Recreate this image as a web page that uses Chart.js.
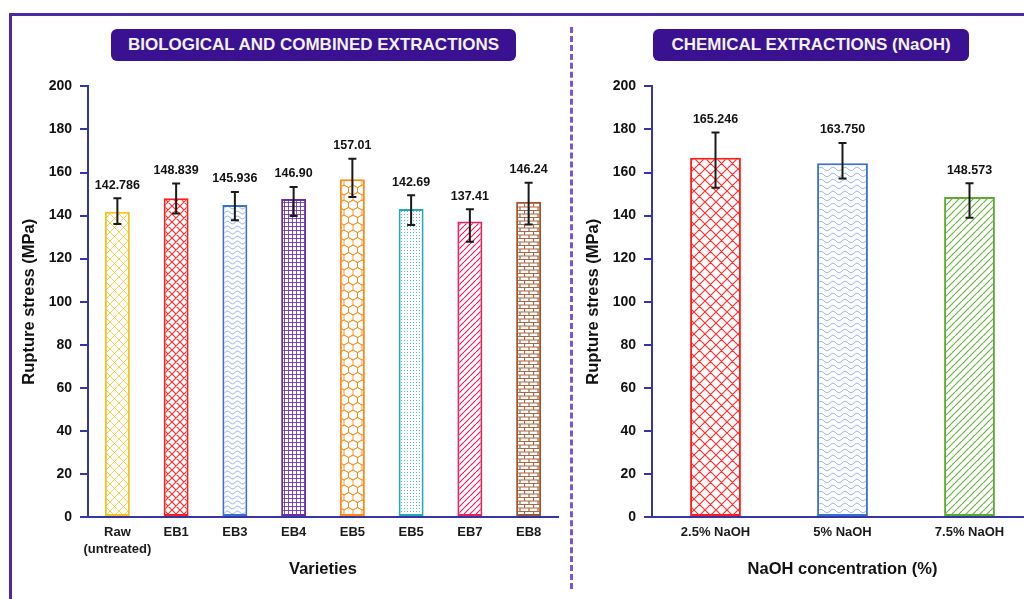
<!DOCTYPE html>
<html lang="en">
<head>
    <meta charset="UTF-8">
    <title>Rupture stress</title>
    <style>
        body {
    margin: 0;
    width: 1024px;
    height: 599px;
    overflow: hidden;
    position: relative;
    background: #fff;
    font-family: 'Liberation Sans', Arial, sans-serif;
}

/* outer frame, only top and left edges are visible */
.frame {
    position: absolute;
    left: 9px;
    top: 13px;
    width: 1100px;
    height: 700px;
    border: 3px solid #4a2a9e;
}

.divider {
    position: absolute;
    left: 570px;
    top: 27px;
    height: 562px;
    border-left: 3px dashed #7b55d6;
}

.panel-title {
    position: absolute;
    top: 29px;
    height: 32px;
    line-height: 32px;
    background: #3a1190;
    color: #f2f2f2;
    border-radius: 6px;
    text-align: center;
    font-weight: bold;
    font-size: 17px;
}

canvas {
    position: absolute;
    top: 70px;
}
    </style>
    <script src="https://cdn.jsdelivr.net/npm/chart.js"></script>
</head>
<body>
    <div class="frame"></div>
    <div class="divider"></div>
    <div class="panel-title" style="left:111px;width:405px;">BIOLOGICAL AND COMBINED EXTRACTIONS</div>
    <div class="panel-title" style="left:653px;width:316px;">CHEMICAL EXTRACTIONS (NaOH)</div>

    <canvas id="bioChart" width="545" height="520" style="left:20px;"></canvas>
    <canvas id="chemChart" width="456" height="520" style="left:584px;"></canvas>

    <script>
// data
const bioCategories = [['Raw', '(untreated)'], 'EB1', 'EB3', 'EB4', 'EB5', 'EB5', 'EB7', 'EB8'];
const bioValues = [141.8, 148.0, 144.9, 147.7, 156.9, 143.0, 137.2, 146.4];
const bioErrLow = [136.1, 141.0, 137.8, 139.8, 148.6, 135.6, 127.9, 135.9];
const bioErrHigh = [148.0, 154.9, 151.0, 153.3, 166.4, 149.5, 142.9, 155.2];
const bioLabels = ['142.786', '148.839', '145.936', '146.90', '157.01', '142.69', '137.41', '146.24'];

const chemCategories = ['2.5% NaOH', '5% NaOH', '7.5% NaOH'];
const chemValues = [166.9, 164.3, 148.6];
const chemErrLow = [152.9, 157.2, 139.0];
const chemErrHigh = [178.6, 173.7, 155.0];
const chemLabels = ['165.246', '163.750', '148.573'];

const yMin = 0;
const yMax = 200;
const yStep = 20;

const FONT = "'Liberation Sans', Arial, sans-serif";
const AXIS_COLOR = '#3535a6';

Chart.defaults.font.family = FONT;
Chart.defaults.color = '#111';

// ---- hatch patterns ----
function makeTile(w, h, draw) {
    const c = document.createElement('canvas');
    c.width = w;
    c.height = h;
    const g = c.getContext('2d');
    g.fillStyle = '#fff';
    g.fillRect(0, 0, w, h);
    draw(g, w, h);
    return g.createPattern(c, 'repeat');
}

function crossHatch(color, s, lw) {
    return makeTile(s, s, (g) => {
        g.strokeStyle = color;
        g.lineWidth = lw;
        g.beginPath();
        for (let o = -s; o <= s; o += s) {
            g.moveTo(o, 0); g.lineTo(o + s, s);
            g.moveTo(o + s, 0); g.lineTo(o, s);
        }
        g.stroke();
    });
}

function diagonal(color, s, lw) {
    return makeTile(s, s, (g) => {
        g.strokeStyle = color;
        g.lineWidth = lw;
        g.beginPath();
        for (let o = -s; o <= s; o += s) {
            g.moveTo(o, s); g.lineTo(o + s, 0);
        }
        g.stroke();
    });
}

function waves(color, w, h, lw) {
    return makeTile(w, h, (g) => {
        g.strokeStyle = color;
        g.lineWidth = lw;
        g.beginPath();
        for (let x = 0; x <= w; x += 0.5) {
            const y = h / 2 + (h * 0.28) * Math.sin(2 * Math.PI * x / w);
            if (x === 0) g.moveTo(x, y); else g.lineTo(x, y);
        }
        g.stroke();
    });
}

function grid(color, s, lw) {
    return makeTile(s, s, (g) => {
        g.strokeStyle = color;
        g.lineWidth = lw;
        g.beginPath();
        g.moveTo(0.5, 0); g.lineTo(0.5, s);
        g.moveTo(0, 0.5); g.lineTo(s, 0.5);
        g.stroke();
    });
}

function dots(color, s) {
    return makeTile(s, s, (g) => {
        g.fillStyle = color;
        g.fillRect(0, 0, 1, 1);
    });
}

function bricks(color, w, h) {
    return makeTile(w, h, (g) => {
        g.strokeStyle = color;
        g.lineWidth = 1.2;
        g.beginPath();
        g.moveTo(0, 0.5); g.lineTo(w, 0.5);
        g.moveTo(0, h / 2 + 0.5); g.lineTo(w, h / 2 + 0.5);
        g.moveTo(0.5, 0); g.lineTo(0.5, h / 2);
        g.moveTo(w / 2 + 0.5, h / 2); g.lineTo(w / 2 + 0.5, h);
        g.stroke();
    });
}

function honeycomb(color) {
    const w = 9, r = 5, h = 15;
    return makeTile(w, h, (g) => {
        g.strokeStyle = color;
        g.lineWidth = 1;
        const centers = [[0, 0], [w, 0], [0, h], [w, h], [w / 2, h / 2]];
        centers.forEach(([cx, cy]) => {
            g.beginPath();
            g.moveTo(cx, cy - r);
            g.lineTo(cx + w / 2, cy - r / 2);
            g.lineTo(cx + w / 2, cy + r / 2);
            g.lineTo(cx, cy + r);
            g.lineTo(cx - w / 2, cy + r / 2);
            g.lineTo(cx - w / 2, cy - r / 2);
            g.closePath();
            g.stroke();
        });
    });
}

const bioBorders = ['#f5c21b', '#ff1c1c', '#3a6fd4', '#6a2ea8', '#ff8a17', '#2ba6b6', '#e8205c', '#a2552b'];
const bioFills = [
    crossHatch('rgba(245,194,27,0.75)', 9, 1),
    crossHatch('#ff3030', 8, 1.2),
    waves('rgba(58,111,212,0.7)', 10, 5, 0.8),
    grid('rgba(106,46,168,0.85)', 4, 1),
    honeycomb('rgba(255,138,23,0.85)'),
    dots('rgba(43,166,182,0.8)', 3),
    diagonal('#e8205c', 6, 1.2),
    bricks('rgba(162,85,43,0.9)', 9, 7)
];

const chemBorders = ['#ff1c1c', '#3a6fd4', '#5aab2e'];
const chemFills = [
    crossHatch('#ff3030', 11, 1.2),
    waves('rgba(58,111,212,0.7)', 12, 6, 0.8),
    diagonal('rgba(90,171,46,0.9)', 7, 1.2)
];

// error bars and value labels, placed through the chart scales
const errorBarPlugin = {
    id: 'errorBars',
    afterDatasetsDraw(chart, args, opts) {
        const { ctx, scales: { x, y } } = chart;
        ctx.save();
        ctx.strokeStyle = '#1a1a1a';
        ctx.lineWidth = 2;
        opts.low.forEach((lo, i) => {
            const px = x.getPixelForValue(i);
            const yLo = y.getPixelForValue(lo);
            const yHi = y.getPixelForValue(opts.high[i]);
            ctx.beginPath();
            ctx.moveTo(px, yLo); ctx.lineTo(px, yHi);
            ctx.moveTo(px - 4, yLo); ctx.lineTo(px + 4, yLo);
            ctx.moveTo(px - 4, yHi); ctx.lineTo(px + 4, yHi);
            ctx.stroke();

            ctx.fillStyle = '#111';
            ctx.font = 'bold 12.5px ' + FONT;
            ctx.textAlign = 'center';
            ctx.textBaseline = 'middle';
            ctx.fillText(opts.labels[i], px, yHi - 13);
        });
        ctx.restore();
    }
};

function buildOptions(xTitle, barPct, low, high, labels) {
    return {
        responsive: false,
        animation: false,
        layout: { padding: { top: 14, right: 7, left: 0, bottom: 0 } },
        plugins: {
            legend: { display: false },
            tooltip: { enabled: false },
            errorBars: { low: low, high: high, labels: labels }
        },
        datasets: { bar: { barPercentage: barPct, categoryPercentage: 1 } },
        scales: {
            x: {
                grid: { display: false, drawTicks: false },
                border: { display: true, color: AXIS_COLOR, width: 2 },
                ticks: {
                    color: '#1a1a1a',
                    padding: 7,
                    maxRotation: 0,
                    autoSkip: false,
                    font: { size: 13, weight: 'bold', lineHeight: 1.3 }
                },
                title: {
                    display: true,
                    text: xTitle,
                    color: '#111',
                    font: { size: 16.5, weight: 'bold' },
                    padding: { top: 0, bottom: 11 }
                },
                afterFit(scale) { scale.height = 73; }
            },
            y: {
                min: yMin,
                max: yMax,
                grid: { display: true, drawOnChartArea: false, drawTicks: true, tickLength: 8, color: AXIS_COLOR, lineWidth: 2 },
                border: { display: true, color: AXIS_COLOR, width: 2 },
                ticks: {
                    stepSize: yStep,
                    color: '#111',
                    padding: 8,
                    font: { size: 14, weight: 'bold' }
                },
                title: {
                    display: true,
                    text: 'Rupture stress (MPa)',
                    color: '#111',
                    font: { size: 16.5, weight: 'bold' },
                    padding: { top: 0, bottom: 0 }
                },
                afterFit(scale) { scale.width = 68; }
            }
        }
    };
}

new Chart(document.getElementById('bioChart'), {
    type: 'bar',
    data: {
        labels: bioCategories,
        datasets: [{
            data: bioValues,
            backgroundColor: bioFills,
            borderColor: bioBorders,
            borderWidth: 2,
            borderSkipped: false
        }]
    },
    options: buildOptions('Varieties', 0.425, bioErrLow, bioErrHigh, bioLabels),
    plugins: [errorBarPlugin]
});

new Chart(document.getElementById('chemChart'), {
    type: 'bar',
    data: {
        labels: chemCategories,
        datasets: [{
            data: chemValues,
            backgroundColor: chemFills,
            borderColor: chemBorders,
            borderWidth: 2,
            borderSkipped: false
        }]
    },
    options: buildOptions('NaOH concentration (%)', 0.4, chemErrLow, chemErrHigh, chemLabels),
    plugins: [errorBarPlugin]
});
    </script>
</body>
</html>
